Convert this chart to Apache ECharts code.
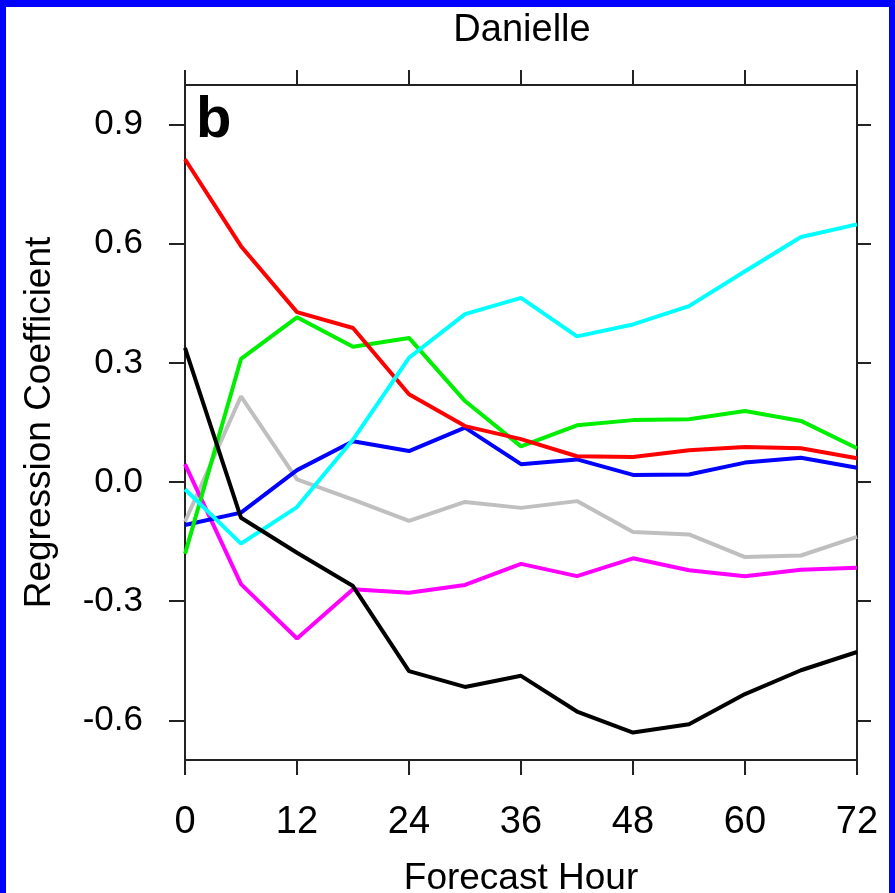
<!DOCTYPE html>
<html>
<head>
<meta charset="utf-8">
<script src="https://cdn.jsdelivr.net/npm/echarts@6/dist/echarts.min.js"></script>
<style>
  html, body { margin: 0; padding: 0; background: #fff; }
  #main { width: 895px; height: 893px; }
</style>
</head>
<body>
<div id="main"></div>
<script>
// forecast hours and regression coefficients
var hours = [0, 6, 12, 18, 24, 30, 36, 42, 48, 54, 60, 66, 72];
var redVals     = [0.813, 0.594, 0.428, 0.388, 0.221, 0.141, 0.108, 0.065, 0.063, 0.080, 0.088, 0.085, 0.060];
var greenVals   = [-0.181, 0.310, 0.415, 0.341, 0.363, 0.204, 0.090, 0.143, 0.156, 0.158, 0.179, 0.154, 0.085];
var blueVals    = [-0.108, -0.077, 0.030, 0.103, 0.078, 0.137, 0.045, 0.057, 0.018, 0.019, 0.049, 0.061, 0.036];
var cyanVals    = [-0.018, -0.155, -0.063, 0.107, 0.313, 0.423, 0.464, 0.367, 0.397, 0.443, 0.531, 0.617, 0.649];
var grayVals    = [-0.100, 0.216, 0.007, -0.044, -0.098, -0.050, -0.065, -0.048, -0.126, -0.132, -0.189, -0.185, -0.138];
var magentaVals = [0.045, -0.257, -0.394, -0.270, -0.279, -0.259, -0.206, -0.237, -0.192, -0.222, -0.237, -0.221, -0.216];
var blackVals   = [0.338, -0.090, -0.178, -0.262, -0.476, -0.516, -0.488, -0.578, -0.631, -0.610, -0.534, -0.474, -0.428];
var yTicks = [-0.6, -0.3, 0.0, 0.3, 0.6, 0.9];

var FONT = "'Liberation Sans', Arial, Helvetica, sans-serif";
var AXIS_COLOR = '#222';

function pairs(vals) {
    var out = [];
    for (var i = 0; i < hours.length; i++) {
        out.push([hours[i], vals[i]]);
    }
    return out;
}

function line(name, vals, color) {
    return {
        name: name,
        type: 'line',
        data: pairs(vals),
        showSymbol: false,
        symbol: 'none',
        lineStyle: { color: color, width: 4 },
        itemStyle: { color: color }
    };
}

var myChart = echarts.init(document.getElementById('main'));
var option = {
    animation: false,
    backgroundColor: '#fff',
    title: {
        text: 'Danielle',
        left: 517,
        top: 7,
        textAlign: 'center',
        textStyle: { fontFamily: FONT, fontSize: 38, fontWeight: 'normal', color: '#000' }
    },
    grid: {
        left: 185,
        right: 38,
        top: 85,
        bottom: 133,
        outerBoundsMode: 'none',
        containLabel: false
    },
    xAxis: [
        {
            type: 'value',
            min: 0,
            max: 72,
            interval: 12,
            name: 'Forecast Hour',
            nameLocation: 'middle',
            nameGap: 100,
            nameTextStyle: { fontFamily: FONT, fontSize: 37, color: '#000' },
            axisLine: { show: true, onZero: false, lineStyle: { color: AXIS_COLOR, width: 2 } },
            axisTick: { show: true, inside: false, length: 15, lineStyle: { color: AXIS_COLOR, width: 2 } },
            axisLabel: { margin: 44, fontFamily: FONT, fontSize: 38, color: '#000' },
            splitLine: { show: false }
        },
        {
            type: 'value',
            position: 'top',
            min: 0,
            max: 72,
            interval: 12,
            axisLine: { show: true, onZero: false, lineStyle: { color: AXIS_COLOR, width: 2 } },
            axisTick: { show: true, inside: false, length: 15, lineStyle: { color: AXIS_COLOR, width: 2 } },
            axisLabel: { show: false },
            splitLine: { show: false }
        }
    ],
    yAxis: [
        {
            type: 'value',
            min: -0.7,
            max: 1.0,
            name: 'Regression Coefficient',
            nameLocation: 'middle',
            nameGap: 127,
            nameTextStyle: { fontFamily: FONT, fontSize: 37, color: '#000' },
            axisLine: { show: true, onZero: false, lineStyle: { color: AXIS_COLOR, width: 2 } },
            axisTick: { show: true, inside: false, length: 16, customValues: yTicks, lineStyle: { color: AXIS_COLOR, width: 2 } },
            axisLabel: {
                margin: 42,
                customValues: yTicks,
                fontFamily: FONT,
                fontSize: 35,
                color: '#000',
                formatter: function (v) { return v.toFixed(1); }
            },
            splitLine: { show: false }
        },
        {
            type: 'value',
            position: 'right',
            min: -0.7,
            max: 1.0,
            axisLine: { show: true, onZero: false, lineStyle: { color: AXIS_COLOR, width: 2 } },
            axisTick: { show: true, inside: false, length: 14, customValues: yTicks, lineStyle: { color: AXIS_COLOR, width: 2 } },
            axisLabel: { show: false, customValues: yTicks },
            splitLine: { show: false }
        }
    ],
    graphic: [
        // panel letter
        {
            type: 'text',
            left: 196,
            top: 92,
            style: { text: 'b', fontFamily: FONT, fontSize: 58, fontWeight: 'bold', fill: '#000' }
        },
        // blue frame round the figure
        { type: 'rect', shape: { x: 0, y: 0, width: 895, height: 7 }, style: { fill: '#0000ff' } },
        { type: 'rect', shape: { x: 0, y: 0, width: 6, height: 893 }, style: { fill: '#0000ff' } },
        { type: 'rect', shape: { x: 889, y: 0, width: 6, height: 893 }, style: { fill: '#0000ff' } }
    ],
    series: [
        line('gray', grayVals, '#bfbfbf'),
        line('magenta', magentaVals, '#ff00ff'),
        line('blue', blueVals, '#0000ff'),
        line('green', greenVals, '#00ee00'),
        line('red', redVals, '#ff0000'),
        line('cyan', cyanVals, '#00ffff'),
        line('black', blackVals, '#000000')
    ]
};
myChart.setOption(option);
</script>
</body>
</html>
